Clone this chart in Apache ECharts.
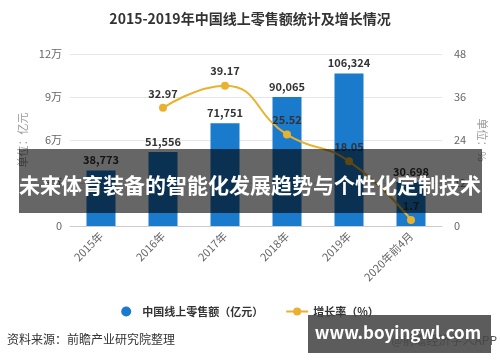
<!DOCTYPE html>
<html><head><meta charset="utf-8">
<script src="https://cdn.jsdelivr.net/npm/echarts@6/dist/echarts.min.js"></script>
<style>html,body{margin:0;padding:0;background:#fff}#c{width:500px;height:362px}</style>
</head><body><div id="c"></div>
<script>
var categories = ['2015年','2016年','2017年','2018年','2019年','2020年前4月'];
var salesValues = [38773, 51556, 71751, 90065, 106324, 30698];
var growthValues = ['-', 32.97, 39.17, 25.52, 18.05, 1.7];
var leftTicks = {0:'0',30000:'3万',60000:'6万',90000:'9万',120000:'12万'};
var FONT = '"Noto Sans CJK SC", "Noto Sans", sans-serif';
var chart = echarts.init(document.getElementById('c'));
chart.setOption({
  animation: false,
  textStyle: {fontFamily: FONT},
  title: {text: '2015-2019年中国线上零售额统计及增长情况', left: 'center', top: 7,
    textStyle: {fontSize: 14, fontWeight: 'bold', color: '#333', fontFamily: FONT}},
  legend: {bottom: 40, left: 'center', itemGap: 22, itemWidth: 22, itemHeight: 10,
    textStyle: {fontSize: 11, color: '#333', fontWeight: 'bold'},
    data: [{name: '中国线上零售额（亿元）', icon: 'circle'}, {name: '增长率（%）'}]},
  grid: {left: 70, right: 58, top: 54, bottom: 136},
  xAxis: {type: 'category', data: categories,
    axisLine: {lineStyle: {color: '#ccc'}},
    axisTick: {alignWithLabel: true, lineStyle: {color: '#ccc'}},
    axisLabel: {rotate: 45, fontSize: 11, color: '#666', margin: 8}},
  yAxis: [
    {type: 'value', min: 0, max: 120000, interval: 30000,
     name: '单位：亿元', nameLocation: 'middle', nameGap: 40, nameRotate: 90,
     nameTextStyle: {color: '#999', fontSize: 11},
     axisLine: {show: false}, axisTick: {show: false},
     axisLabel: {fontSize: 11, color: '#666', formatter: function(v){return leftTicks[v];}},
     splitLine: {lineStyle: {color: '#e6e6e6'}}},
    {type: 'value', min: 0, max: 48, interval: 12,
     name: '单位：%', nameLocation: 'middle', nameGap: 32, nameRotate: -90,
     nameTextStyle: {color: '#999', fontSize: 11},
     axisLine: {show: false}, axisTick: {show: false},
     axisLabel: {fontSize: 11, color: '#666', margin: 12},
     splitLine: {show: false}}
  ],
  series: [
    {name: '中国线上零售额（亿元）', type: 'bar', data: salesValues, barWidth: 29,
     itemStyle: {color: '#1a7acc'},
     label: {show: true, position: 'top', fontSize: 11, fontWeight: 'bold', color: '#333',
       formatter: function(p){return p.value.toLocaleString('en-US');}}},
    {name: '增长率（%）', type: 'line', yAxisIndex: 1, data: growthValues, smooth: true,
     symbol: 'circle', symbolSize: 8,
     lineStyle: {color: '#eab12f', width: 2}, itemStyle: {color: '#eab12f'},
     label: {show: true, position: 'top', fontSize: 11, fontWeight: 'bold', color: '#333'}}
  ],
  graphic: [
    {type: 'text', left: 7, top: 333, style: {text: '资料来源：前瞻产业研究院整理', fill: '#333', fontSize: 12, fontFamily: FONT}},
    {type: 'text', right: 3, top: 334, style: {text: '@前瞻经济学人APP', fill: '#555', fontSize: 12, fontFamily: FONT}},
    {type: 'rect', shape: {x: 19, y: 149, width: 463, height: 64}, style: {fill: 'rgba(0,0,0,0.6)'}, z: 100},
    {type: 'text', x: 250, y: 185, z: 101, style: {text: '未来体育装备的智能化发展趋势与个性化定制技术', fill: '#fff', fontSize: 21, fontWeight: 'bold', fontFamily: FONT, align: 'center', verticalAlign: 'middle'}},
    {type: 'rect', shape: {x: 308, y: 315, width: 183, height: 38}, style: {fill: 'rgba(70,70,70,0.88)'}, z: 100},
    {type: 'text', x: 398, y: 333, z: 101, style: {text: 'www.boyingwl.com', fill: '#fff', fontSize: 17, fontWeight: 'bold', fontFamily: FONT, align: 'center', verticalAlign: 'middle'}}
  ]
});
</script></body></html>
